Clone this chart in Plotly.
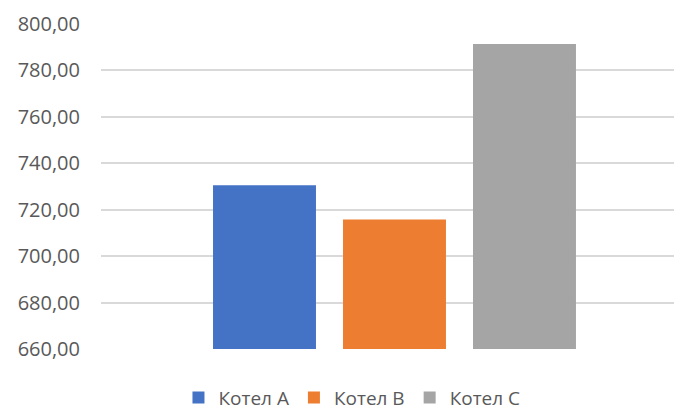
import plotly.graph_objects as go

# Boiler comparison: one group, three series
series_names = ["Котел A", "Котел B", "Котел C"]
series_values = [730.5, 715.8, 791.4]
series_colors = ["#4472C4", "#ED7D31", "#A5A5A5"]
group_label = [0]

y_ticks = [660, 680, 700, 720, 740, 760, 780, 800]

fig = go.Figure()
for name, val, col in zip(series_names, series_values, series_colors):
    fig.add_trace(go.Bar(
        x=group_label,
        y=[val],
        name=name,
        marker=dict(color=col, line=dict(width=0)),
    ))

font_family = "Open Sans, Segoe UI, Liberation Sans, sans-serif"

fig.update_layout(
    width=674,
    height=412,
    margin=dict(l=101, r=0, t=24, b=63, pad=0, autoexpand=False),
    paper_bgcolor="white",
    plot_bgcolor="white",
    barmode="group",
    bargap=0.3194,
    bargroupgap=0.208,
    separators=", ",
    font=dict(family=font_family, size=20, color="#595959"),
    showlegend=True,
    legend=dict(
        orientation="h",
        x=0.438,
        xanchor="center",
        y=-0.150,
        yanchor="middle",
        font=dict(family=font_family, size=19, color="#595959"),
        itemwidth=30,
        tracegroupgap=0,
        traceorder="normal",
        bgcolor="rgba(0,0,0,0)",
    ),
    xaxis=dict(
        range=[-0.5122, 0.4878],
        showticklabels=False,
        showgrid=False,
        zeroline=False,
        showline=False,
        ticks="",
        fixedrange=True,
    ),
    yaxis=dict(
        range=[660, 800],
        tickvals=y_ticks,
        tickformat=",.2f",
        showgrid=True,
        gridcolor="#D9D9D9",
        gridwidth=1.5,
        zeroline=False,
        showline=False,
        ticks="",
        ticklabelstandoff=20,
        tickfont=dict(family=font_family, size=20, color="#595959"),
    ),
)

fig.write_html("out.html")
